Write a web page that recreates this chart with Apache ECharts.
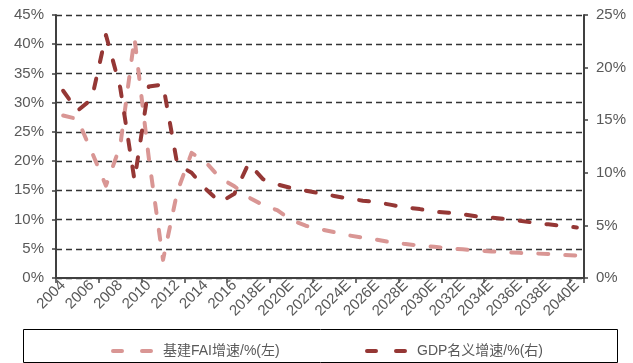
<!DOCTYPE html>
<html>
<head>
<meta charset="utf-8">
<script src="https://cdn.jsdelivr.net/npm/echarts@6/dist/echarts.min.js"></script>
<style>
  html, body { margin: 0; padding: 0; background: #ffffff; }
  #chart { width: 633px; height: 363px; }
</style>
</head>
<body>
<div id="chart"></div>
<script>
// Years on the category axis (E = estimate)
const years = [
  '2004', '2005', '2006', '2007', '2008', '2009', '2010', '2011', '2012', '2013',
  '2014', '2015', '2016', '2017', '2018E', '2019E', '2020E', '2021E', '2022E', '2023E',
  '2024E', '2025E', '2026E', '2027E', '2028E', '2029E', '2030E', '2031E', '2032E', '2033E',
  '2034E', '2035E', '2036E', '2037E', '2038E', '2039E', '2040E'
];

// Infrastructure FAI growth, % (left axis)
const faiGrowth = [
  27.8, 27.2, 21.6, 15.8, 22.6, 41.1, 20.6, 3.1, 14.8, 21.4,
  19.8, 17.1, 15.7, 13.8, 12.5, 11.6, 9.9, 8.95, 8.35, 7.85,
  7.3, 6.9, 6.55, 6.1, 5.8, 5.55, 5.35, 5.1, 4.9, 4.7,
  4.55, 4.4, 4.3, 4.2, 4.1, 3.95, 3.85
];

// Nominal GDP growth, % (right axis)
const gdpGrowth = [
  17.8, 15.9, 17.0, 23.1, 18.1, 9.3, 18.2, 18.4, 10.8, 10.0,
  8.45, 7.2, 8.0, 10.9, 9.4, 8.9, 8.55, 8.3, 8.05, 7.8,
  7.55, 7.35, 7.2, 6.95, 6.7, 6.55, 6.3, 6.2, 6.05, 5.85,
  5.75, 5.6, 5.45, 5.25, 5.1, 4.95, 4.8
];

// Axis ranges and steps
const leftAxisMax = 45;
const rightAxisMax = 25;
const axisStep = 5;

const seriesNames = ['基建FAI增速/%(左)', 'GDP名义增速/%(右)'];
const colorFai = '#D99694';
const colorGdp = '#953735';

const labelFont = "'Liberation Sans Narrow', 'Arial Narrow', 'Liberation Sans', Arial, sans-serif";
const legendFont = "'Liberation Sans Narrow', 'Arial Narrow', 'Liberation Sans', 'Noto Sans CJK SC', sans-serif";
const textGray = '#595959';
const axisGray = '#404040';

const dashIcon = 'path://M2,0h9a2,2 0 0 1 0,4h-9a2,2 0 0 1 0,-4z M31,0h9a2,2 0 0 1 0,4h-9a2,2 0 0 1 0,-4z';

const chart = echarts.init(document.getElementById('chart'), null, { renderer: 'canvas' });

const lineStyleFor = (color) => ({
  color: color,
  width: 4,
  type: [10, 17],
  cap: 'round',
  join: 'round'
});

const legendFor = (name, left) => ({
  data: [name],
  left: left,
  top: 339,
  icon: dashIcon,
  itemWidth: 42,
  itemHeight: 4,
  itemStyle: { borderWidth: 0 },
  textStyle: {
    color: textGray,
    fontSize: 14,
    fontFamily: legendFont,
    padding: [0, 0, 0, 5]
  }
});

chart.setOption({
  animation: false,
  backgroundColor: '#ffffff',
  grid: {
    left: 56,
    right: 49,
    top: 15,
    bottom: 85,
    outerBoundsMode: 'none'
  },
  legend: [
    legendFor(seriesNames[0], 106),
    legendFor(seriesNames[1], 360)
  ],
  graphic: [{
    type: 'rect',
    shape: { x: 23.5, y: 329.5, width: 594, height: 33 },
    style: { fill: 'none', stroke: '#000000', lineWidth: 1 },
    silent: true
  }],
  xAxis: {
    type: 'category',
    data: years,
    boundaryGap: true,
    axisLine: { show: true, lineStyle: { color: axisGray, width: 2 } },
    axisTick: { show: true, interval: 2, length: 5, lineStyle: { color: axisGray, width: 1.5 } },
    axisLabel: {
      interval: 1,
      rotate: 45,
      margin: 5,
      color: textGray,
      fontSize: 15,
      fontFamily: labelFont
    },
    splitLine: { show: false }
  },
  yAxis: [
    {
      type: 'value',
      position: 'left',
      min: 0,
      max: leftAxisMax,
      interval: axisStep,
      axisLine: { show: true, lineStyle: { color: axisGray, width: 2 } },
      axisTick: { show: true, length: 4, lineStyle: { color: axisGray, width: 1.5 } },
      axisLabel: {
        formatter: '{value}%',
        margin: 12,
        color: textGray,
        fontSize: 15,
        fontFamily: labelFont
      },
      splitLine: {
        show: true,
        lineStyle: { color: '#333333', width: 1.3, type: [6, 4] }
      }
    },
    {
      type: 'value',
      position: 'right',
      min: 0,
      max: rightAxisMax,
      interval: axisStep,
      axisLine: { show: true, lineStyle: { color: axisGray, width: 2 } },
      axisTick: { show: true, length: 4, lineStyle: { color: axisGray, width: 1.5 } },
      axisLabel: {
        formatter: '{value}%',
        margin: 12,
        color: textGray,
        fontSize: 15,
        fontFamily: labelFont
      },
      splitLine: { show: false }
    }
  ],
  series: [
    {
      name: seriesNames[0],
      type: 'line',
      yAxisIndex: 0,
      data: faiGrowth,
      symbol: 'none',
      itemStyle: { color: colorFai },
      lineStyle: lineStyleFor(colorFai),
      z: 3
    },
    {
      name: seriesNames[1],
      type: 'line',
      yAxisIndex: 1,
      data: gdpGrowth,
      symbol: 'none',
      itemStyle: { color: colorGdp },
      lineStyle: lineStyleFor(colorGdp),
      z: 4
    }
  ]
});
</script>
</body>
</html>
